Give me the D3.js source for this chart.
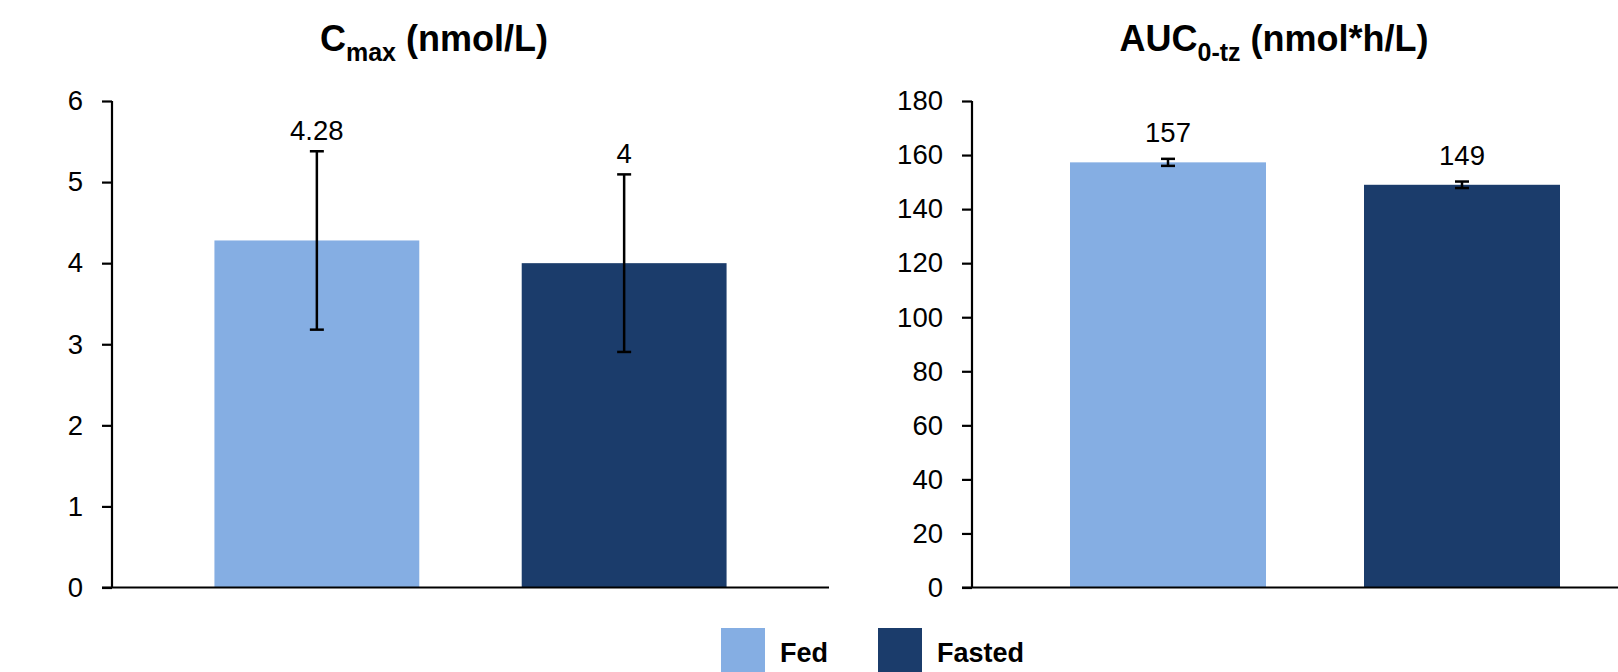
<!DOCTYPE html>
<html>
<head>
<meta charset="utf-8">
<script src="https://cdn.jsdelivr.net/npm/d3@7"></script>
<style>
  html, body { margin: 0; padding: 0; background: #fff; }
  svg { display: block; }
  text { font-family: "Liberation Sans", Arial, sans-serif; fill: #000; }
</style>
</head>
<body>
<svg id="chart" width="1618" height="672"></svg>
<script>
// ---- data ----
const categories = ["Fed", "Fasted"];
const cmaxValues = [4.28, 4.00];
const cmaxErrors = [1.10, 1.095];
const cmaxLabels = ["4.28", "4"];
const cmaxTicks = [0, 1, 2, 3, 4, 5, 6];

const aucValues = [157.3, 149.0];
const aucErrors = [1.3, 1.2];
const aucLabels = ["157", "149"];
const aucTicks = [0, 20, 40, 60, 80, 100, 120, 140, 160, 180];

const colors = ["#85AEE3", "#1B3C6B"];

// ---- layout ----
const svg = d3.select("#chart");
const W = 1618, H = 672;
const yTop = 101, yBottom = 587.5;
const tickLen = 10;

function panel(opts) {
  const g = svg.append("g");
  const x = d3.scaleBand().domain(categories)
    .range([opts.axisX, opts.xEnd]).paddingInner(1/3).paddingOuter(1/3);
  const y = d3.scaleLinear().domain(opts.domain).range([yBottom, yTop]);

  // bars
  g.selectAll("rect.bar").data(categories).enter().append("rect")
    .attr("class", "bar")
    .attr("x", d => x(d))
    .attr("width", x.bandwidth())
    .attr("y", (d, i) => y(opts.values[i]))
    .attr("height", (d, i) => y(0) - y(opts.values[i]))
    .attr("fill", (d, i) => colors[i]);

  // x axis line
  g.append("line")
    .attr("x1", opts.axisX - tickLen).attr("x2", opts.lineEnd)
    .attr("y1", y(0)).attr("y2", y(0))
    .attr("stroke", "#000").attr("stroke-width", 2.2);

  // y axis
  const yAxis = d3.axisLeft(y).tickValues(opts.ticks).tickSize(tickLen)
    .tickSizeOuter(0).tickPadding(19).tickFormat(d3.format("d"));
  const ya = g.append("g").attr("transform", `translate(${opts.axisX},0)`).call(yAxis);
  ya.select(".domain").attr("stroke", "#000").attr("stroke-width", 2.2)
    .attr("d", `M0,${yTop}V${yBottom}`);
  ya.selectAll(".tick line").attr("stroke", "#000").attr("stroke-width", 2.2);
  ya.selectAll(".tick text")
    .style("font-family", "'Liberation Sans', Arial, sans-serif")
    .style("font-size", "27.5px").attr("fill", "#000");
  ya.attr("font-family", null).attr("font-size", null);

  // error bars
  const cap = 7;
  categories.forEach((c, i) => {
    const cx = x(c) + x.bandwidth() / 2;
    const hi = y(opts.values[i] + opts.errors[i]);
    const lo = y(opts.values[i] - opts.errors[i]);
    g.append("line").attr("x1", cx).attr("x2", cx).attr("y1", hi).attr("y2", lo)
      .attr("stroke", "#000").attr("stroke-width", 2.5);
    [hi, lo].forEach(yy => {
      g.append("line").attr("x1", cx - cap).attr("x2", cx + cap)
        .attr("y1", yy).attr("y2", yy)
        .attr("stroke", "#000").attr("stroke-width", 2.5);
    });
    g.append("text")
      .attr("x", cx).attr("y", hi - opts.labelOffset)
      .attr("text-anchor", "middle")
      .style("font-size", "27.5px")
      .text(opts.labels[i]);
  });

  // title
  const t = svg.append("text")
    .attr("x", opts.titleX).attr("y", 51)
    .attr("text-anchor", "middle")
    .style("font-size", "36px").style("font-weight", "bold")
    .style("white-space", "pre");
  t.append("tspan").text(opts.titleMain);
  t.append("tspan").attr("dy", 10).style("font-size", "25px").text(opts.titleSub);
  t.append("tspan").attr("dy", -10).text(opts.titleRest);
}

panel({
  axisX: 112, xEnd: 829, lineEnd: 829,
  domain: [0, 6], ticks: cmaxTicks,
  values: cmaxValues, errors: cmaxErrors, labels: cmaxLabels,
  labelOffset: 11,
  titleX: 434, titleMain: "C", titleSub: "max", titleRest: " (nmol/L)"
});

panel({
  axisX: 972, xEnd: 1658, lineEnd: W,
  domain: [0, 180], ticks: aucTicks,
  values: aucValues, errors: aucErrors, labels: aucLabels,
  labelOffset: 17,
  titleX: 1274, titleMain: "AUC", titleSub: "0-tz", titleRest: " (nmol*h/L)"
});

// legend
const legend = svg.append("g");
const legendX = [721, 878];
categories.forEach((c, i) => {
  legend.append("rect")
    .attr("x", legendX[i]).attr("y", 628)
    .attr("width", 44).attr("height", 46)
    .attr("fill", colors[i]);
  legend.append("text")
    .attr("x", legendX[i] + 59).attr("y", 662)
    .style("font-size", "27px").style("font-weight", "bold")
    .text(c);
});
</script>
</body>
</html>
